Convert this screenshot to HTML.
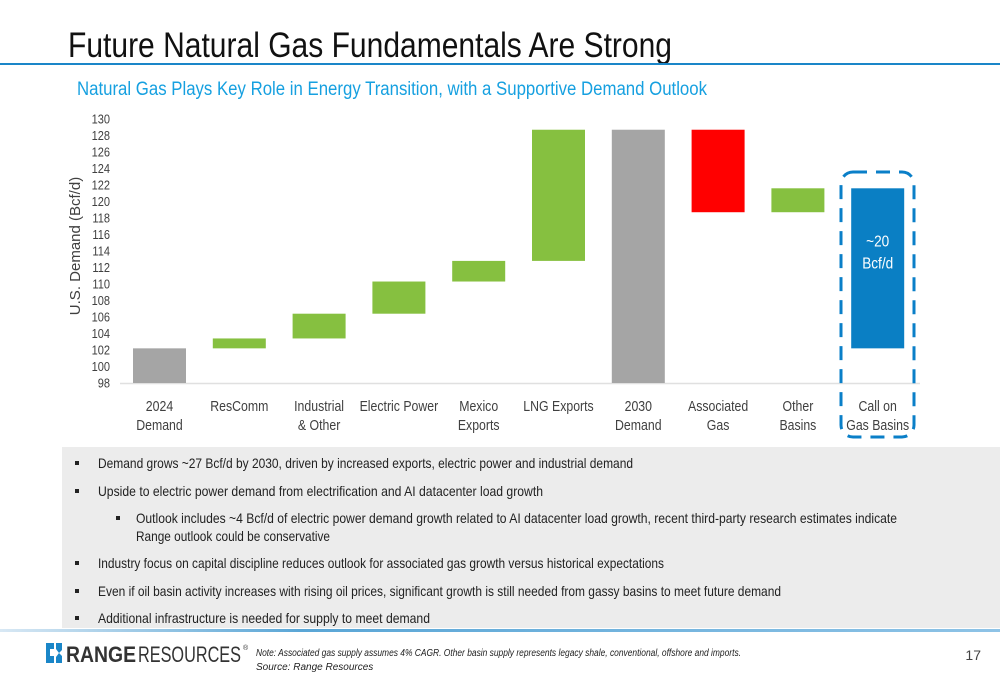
<!DOCTYPE html>
<html><head><meta charset="utf-8"><style>
html,body{margin:0;padding:0;background:#fff;}
svg{display:block;font-family:"Liberation Sans Narrow","Liberation Sans",sans-serif;}
</style></head><body>
<svg id="s" width="1000" height="685" viewBox="0 0 1000 685" xmlns="http://www.w3.org/2000/svg">
<defs><linearGradient id="fg" x1="0" x2="1"><stop offset="0" stop-color="#d8e8f4"/><stop offset="0.3" stop-color="#5aa6d6"/><stop offset="1" stop-color="#8ec3e6"/></linearGradient></defs>
<text x="68" y="57" font-size="35" fill="#111" textLength="604" lengthAdjust="spacingAndGlyphs">Future Natural Gas Fundamentals Are Strong</text>
<rect x="0" y="63" width="1000" height="2" fill="#1a86c8"/>
<text x="77" y="95" font-size="19" fill="#16a0e0" textLength="630" lengthAdjust="spacingAndGlyphs">Natural Gas Plays Key Role in Energy Transition, with a Supportive Demand Outlook</text>
<g id="chart"></g>
<text transform="translate(80,246) rotate(-90)" text-anchor="middle" font-size="15" fill="#404040" font-family="Liberation Sans, sans-serif">U.S. Demand (Bcf/d)</text>
<rect x="841" y="172" width="73" height="265" rx="12" fill="none" stroke="#0a7fc8" stroke-width="3" stroke-dasharray="14 9"/>
<rect x="62" y="447" width="938" height="181" fill="#ececec"/>
<g font-size="14" fill="#222">
<rect x="75" y="461" width="4" height="4" fill="#222"/><text x="98" y="468" textLength="535" lengthAdjust="spacingAndGlyphs">Demand grows ~27 Bcf/d by 2030, driven by increased exports, electric power and industrial demand</text>
<rect x="75" y="489" width="4" height="4" fill="#222"/><text x="98" y="496" textLength="445" lengthAdjust="spacingAndGlyphs">Upside to electric power demand from electrification and AI datacenter load growth</text>
<rect x="116" y="516" width="4" height="4" fill="#222"/><text x="136" y="523" textLength="761" lengthAdjust="spacingAndGlyphs">Outlook includes ~4 Bcf/d of electric power demand growth related to AI datacenter load growth, recent third-party research estimates indicate</text>
<text x="136" y="541" textLength="194" lengthAdjust="spacingAndGlyphs">Range outlook could be conservative</text>
<rect x="75" y="561" width="4" height="4" fill="#222"/><text x="98" y="568" textLength="566" lengthAdjust="spacingAndGlyphs">Industry focus on capital discipline reduces outlook for associated gas growth versus historical expectations</text>
<rect x="75" y="589" width="4" height="4" fill="#222"/><text x="98" y="596" textLength="683" lengthAdjust="spacingAndGlyphs">Even if oil basin activity increases with rising oil prices, significant growth is still needed from gassy basins to meet future demand</text>
<rect x="75" y="616" width="4" height="4" fill="#222"/><text x="98" y="623" textLength="332" lengthAdjust="spacingAndGlyphs">Additional infrastructure is needed for supply to meet demand</text>
</g>
<rect x="0" y="629" width="1000" height="3" fill="url(#fg)"/>
<g>
<path d="M46 643 h8 v6 h-4 v7 h4 v7 h-8 z" fill="#1a86c8"/>
<path d="M56 643 h6 v7 l-3 3 3 3 v7 h-6 v-6 l3 -4 -3 -4 z" fill="#1a86c8"/>
<text x="66" y="662" font-size="22" font-weight="bold" fill="#333" font-family="Liberation Sans, sans-serif" textLength="70" lengthAdjust="spacingAndGlyphs">RANGE</text>
<text x="138" y="662" font-size="22" fill="#333" font-family="Liberation Sans, sans-serif" textLength="103" lengthAdjust="spacingAndGlyphs">RESOURCES</text>
<text x="243" y="650" font-size="7" fill="#333">®</text>
</g>
<text x="256" y="656" font-size="10" font-style="italic" fill="#222" textLength="485" lengthAdjust="spacingAndGlyphs">Note: Associated gas supply assumes 4% CAGR. Other basin supply represents legacy shale, conventional, offshore and imports.</text>
<text x="256" y="670" font-size="10" font-style="italic" fill="#222">Source: Range Resources</text>
<text x="981" y="660" font-size="14" fill="#444" text-anchor="end">17</text>
</svg>
<script>
const categories = [["2024","Demand"],["ResComm"],["Industrial","& Other"],["Electric Power"],["Mexico","Exports"],["LNG Exports"],["2030","Demand"],["Associated","Gas"],["Other","Basins"],["Call on","Gas Basins"]];
const lows  = [98, 102.2, 103.4, 106.4, 110.3, 112.8, 98, 118.7, 118.7, 102.2];
const highs = [102.2, 103.4, 106.4, 110.3, 112.8, 128.7, 128.7, 128.7, 121.6, 121.6];
const kinds = ["total","up","up","up","up","up","total","down","up","call"];
const yTicks = [98,100,102,104,106,108,110,112,114,116,118,120,122,124,126,128,130];

const NS = "http://www.w3.org/2000/svg";
const g = document.getElementById("chart");
const y = v => 383 - (v - 98) * 8.25;
const xc = i => 159.5 + i * 79.8;
const colors = {total:"#a5a5a5", up:"#86c040", down:"#ff0000", call:"#0a7fc4"};
function mk(tag, attrs){ const e = document.createElementNS(NS, tag); for (const k in attrs) e.setAttribute(k, attrs[k]); g.appendChild(e); return e; }
function narrow(t, f){ const w = t.getComputedTextLength(); t.setAttribute("textLength", (w*f).toFixed(1)); t.setAttribute("lengthAdjust","spacingAndGlyphs"); }

const axis = mk("line", {x1:120, x2:920, y1:y(98)+0.5, y2:y(98)+0.5, stroke:"#e0e0e0", "stroke-width":1.5});



yTicks.forEach(t => {
  const tx = mk("text", {x:110, y:y(t)+4.5, "text-anchor":"end", "font-size":13, fill:"#404040"});
  tx.textContent = t;
  
  
  narrow(tx, 0.85);
});

categories.forEach((c, i) => {
  const r = mk("rect", {x:xc(i)-26.5, y:y(highs[i]), width:53, height:y(lows[i])-y(highs[i]), fill:colors[kinds[i]]});
  
  
  c.forEach((line, j) => {
    const t = mk("text", {x:xc(i), y:411 + j*19, "text-anchor":"middle", "font-size":15, fill:"#404040"});
    t.textContent = line;
    
    
    narrow(t, 0.82);
  });
});
const i = 9, mid = (y(lows[i]) + y(highs[i])) / 2;
["~20","Bcf/d"].forEach((s, j) => {
  const t = mk("text", {x:xc(i), y:mid - 22 + j*22, "text-anchor":"middle", "font-size":16, fill:"#fff"});
  t.textContent = s;
  
  
  narrow(t, 0.85);
});
</script>
</body></html>
